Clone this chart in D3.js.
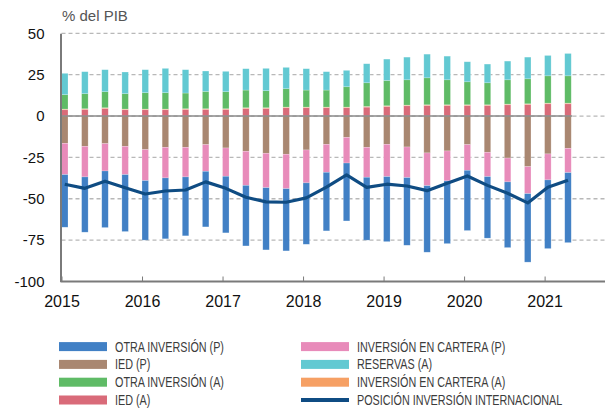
<!DOCTYPE html>
<html>
<head>
<meta charset="utf-8">
<script src="https://cdn.jsdelivr.net/npm/d3@7"></script>
<style>
  body { margin: 0; background: #fff; }
  svg { display: block; }
</style>
</head>
<body>
<div class="chart"></div>
<script>
// Datos (% del PIB), trimestrales.
const quarters = ["2015-1","2015-2","2015-3","2015-4","2016-1","2016-2","2016-3","2016-4",
    "2017-1","2017-2","2017-3","2017-4","2018-1","2018-2","2018-3","2018-4",
    "2019-1","2019-2","2019-3","2019-4","2020-1","2020-2","2020-3","2020-4","2021-1","2021-2"];

// Activos
const iedA      = [3.8,4.0,4.6,3.8,3.8,3.8,4.0,4.0,4.0,4.6,4.6,5.0,5.0,5.0,5.0,5.4,5.8,6.2,6.4,6.4,6.4,6.4,6.8,7.0,7.4,7.4];
const carteraA  = [0.4,0.4,0.4,0.4,0.4,0.4,0.4,0.4,0.4,0.4,0.4,0.4,0.4,0.4,0.4,0.4,0.4,0.4,0.4,0.4,0.4,0.4,0.4,0.4,0.4,0.4];
const otraA     = [8.7,9.1,9.7,9.3,9.9,9.9,9.5,10.5,10.3,10.7,10.3,11.1,10.3,10.3,12.3,14.3,15.3,15.3,16.3,15.1,13.9,13.3,14.7,15.1,16.5,16.5];
const reservasA = [12.9,13.3,13.3,13.1,13.9,14.7,14.1,12.3,12.3,12.9,13.5,12.9,12.9,11.1,9.9,11.5,12.9,13.7,14.3,14.3,12.1,11.3,11.3,13.1,12.3,13.5];
// Pasivos
const iedP      = [-16.5,-18.3,-16.7,-18.3,-20.3,-18.9,-18.9,-17.3,-19.3,-21.3,-22.5,-23.1,-20.5,-17.1,-12.9,-18.9,-17.1,-18.7,-22.3,-21.1,-17.3,-21.9,-25.4,-30.6,-22.9,-19.5];
const carteraP  = [-18.9,-18.5,-16.5,-17.1,-18.7,-18.5,-17.9,-16.1,-17.1,-20.6,-20.8,-20.8,-19.9,-16.9,-15.5,-18.1,-19.5,-18.5,-19.8,-18.1,-15.5,-14.7,-14.4,-16.3,-15.7,-14.7];
const otraP     = [-31.8,-33.4,-34.2,-34.4,-36.0,-36.8,-35.6,-33.6,-34.2,-36.6,-37.6,-37.6,-37.1,-35.4,-35.0,-38.0,-39.3,-40.9,-40.2,-37.9,-36.4,-37.2,-39.7,-41.4,-41.5,-42.3];
// Posición de inversión internacional
const piin      = [-41.2,-43.7,-39.4,-43.3,-47.1,-45.3,-44.7,-39.8,-43.7,-49.1,-51.9,-52.1,-49.5,-43.0,-35.6,-43.1,-41.2,-42.3,-45.1,-40.6,-36.2,-41.9,-46.7,-52.5,-43.1,-38.8];

const yTicks = [50, 25, 0, -25, -50, -75, -100];
const xTicks = [2015, 2016, 2017, 2018, 2019, 2020, 2021];

const series = [
    {key: "otraP",     label: "OTRA INVERSIÓN (P)",         color: "#4180c5", values: otraP},
    {key: "iedP",      label: "IED (P)",                    color: "#a98771", values: iedP},
    {key: "otraA",     label: "OTRA INVERSIÓN (A)",         color: "#5fbb66", values: otraA},
    {key: "iedA",      label: "IED (A)",                    color: "#d96b79", values: iedA},
    {key: "carteraP",  label: "INVERSIÓN EN CARTERA (P)",   color: "#e88bba", values: carteraP},
    {key: "reservasA", label: "RESERVAS (A)",               color: "#62c9d2", values: reservasA},
    {key: "carteraA",  label: "INVERSIÓN EN CARTERA (A)",   color: "#f6a064", values: carteraA},
];
const lineColor = "#0f4c83";

// Orden de apilado: activos hacia arriba, pasivos hacia abajo.
const stackKeys = ["iedA", "carteraA", "otraA", "reservasA", "iedP", "carteraP", "otraP"];

const width = 605, height = 408;
const margin = {top: 33.3, right: 0, bottom: 126.5, left: 61.5};

const table = quarters.map((q, i) => {
    const [yr, qq] = q.split("-").map(Number);
    const row = {t: yr + (qq - 1) / 4};
    series.forEach(s => row[s.key] = s.values[i]);
    row.piin = piin[i];
    return row;
});

const x = d3.scaleLinear()
    .domain([2015, 2021.75])
    .range([margin.left, width - margin.right]);
const y = d3.scaleLinear()
    .domain([-100, 50])
    .range([height - margin.bottom, margin.top]);

const barW = 6.5;

const svg = d3.select(".chart").append("svg")
    .attr("width", width)
    .attr("height", height)
    .style("font-family", "'Liberation Sans', Arial, sans-serif");

// Rejilla
svg.append("g")
    .selectAll("line")
    .data(yTicks.filter(d => d !== -100))
    .join("line")
        .attr("x1", margin.left)
        .attr("x2", width)
        .attr("y1", d => y(d))
        .attr("y2", d => y(d))
        .attr("stroke", "#b8b8b8")
        .attr("stroke-width", 1.3)
        .attr("stroke-dasharray", "4,3");

// Barras apiladas
const stacked = d3.stack()
    .keys(stackKeys)
    .offset(d3.stackOffsetDiverging)(table);
const colorOf = Object.fromEntries(series.map(s => [s.key, s.color]));

svg.append("g")
    .selectAll("g")
    .data(stacked)
    .join("g")
        .attr("fill", d => colorOf[d.key])
    .selectAll("rect")
    .data(d => d)
    .join("rect")
        .attr("x", d => x(d.data.t))
        .attr("width", barW)
        .attr("y", d => y(Math.max(d[0], d[1])))
        .attr("height", d => Math.abs(y(d[0]) - y(d[1])))
        .attr("stroke", "#fff")
        .attr("stroke-opacity", 0.35)
        .attr("stroke-width", 0.6);

// Línea de cero
svg.append("line")
    .attr("x1", margin.left)
    .attr("x2", x(table[table.length - 1].t) + barW + 1)
    .attr("y1", y(0))
    .attr("y2", y(0))
    .attr("stroke", "#8a8a8a")
    .attr("stroke-width", 1.5);

// Posición de inversión internacional
svg.append("path")
    .datum(table)
    .attr("fill", "none")
    .attr("stroke", lineColor)
    .attr("stroke-width", 3.2)
    .attr("stroke-linejoin", "round")
    .attr("d", d3.line()
        .x(d => x(d.t) + barW / 2)
        .y(d => y(d.piin)));

// Ejes
const xAxis = svg.append("g")
    .attr("transform", `translate(0,${y(-100)})`)
    .call(d3.axisBottom(x).tickValues(xTicks).tickFormat(d3.format("d")).tickSize(-5).tickPadding(14));
xAxis.select(".domain").attr("stroke", "#7a7a7a").attr("stroke-width", 2)
    .attr("d", `M${margin.left - 1},0H${width}`);
xAxis.selectAll(".tick line").attr("stroke", "#7a7a7a").attr("stroke-width", 1);
xAxis.selectAll(".tick text")
    .attr("font-size", 16)
    .attr("fill", "#111")
    .attr("font-family", "'Liberation Sans', Arial, sans-serif");

const yAxis = svg.append("g")
    .attr("transform", `translate(${margin.left - 1},0)`)
    .call(d3.axisLeft(y).tickValues(yTicks).tickSize(0).tickPadding(16));
yAxis.select(".domain").attr("stroke", "#7a7a7a").attr("stroke-width", 2);
yAxis.selectAll(".tick text")
    .attr("font-size", 15)
    .attr("fill", "#111")
    .attr("font-family", "'Liberation Sans', Arial, sans-serif")
    .text(d => d3.format("d")(d).replace("−", "-"));

svg.append("text")
    .attr("x", 62)
    .attr("y", 21)
    .attr("font-size", 15)
    .attr("fill", "#555")
    .text("% del PIB");

// Leyenda
const legendItems = series.map(s => ({label: s.label, color: s.color, line: false}));
legendItems.push({label: "POSICIÓN INVERSIÓN INTERNACIONAL", color: lineColor, line: true});

const legend = svg.append("g")
    .selectAll("g")
    .data(legendItems)
    .join("g")
        .attr("transform", (d, i) => `translate(${i < 4 ? 59 : 301},${346.6 + (i % 4) * 17.8})`);

legend.append("rect")
    .attr("x", 0)
    .attr("y", d => d.line ? -2 : -4.5)
    .attr("width", 48)
    .attr("height", d => d.line ? 4 : 9)
    .attr("fill", d => d.color);

// Texto estrecho (condensado) como en el original
legend.append("text")
    .attr("transform", "translate(56,5) scale(0.77,1)")
    .attr("font-size", 14)
    .attr("fill", "#3c3c3c")
    .text(d => d.label);
</script>
</body>
</html>
